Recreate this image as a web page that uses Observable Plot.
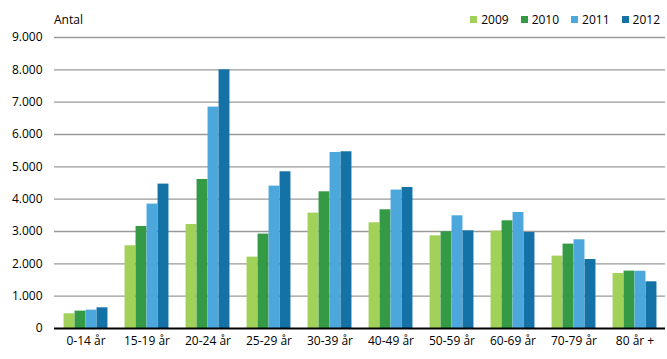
<!DOCTYPE html>
<html>
<head>
<meta charset="utf-8">
<script src="https://cdn.jsdelivr.net/npm/d3@7"></script>
<script src="https://cdn.jsdelivr.net/npm/@observablehq/plot@0.6"></script>
<style>
  html, body { margin: 0; padding: 0; background: #fff; }
  #wrap { position: relative; width: 667px; height: 359px; font-family: "Open Sans", sans-serif; color: #000; }
  #head { position: relative; height: 20px; font-size: 12px; }
  #ylab { position: absolute; left: 54px; top: 11px; }
  #legend { position: absolute; right: 7px; top: 11px; display: flex; gap: 12px; }
  .item { display: flex; align-items: center; gap: 4px; }
  .sw { width: 7px; height: 7px; display: inline-block; }
</style>
</head>
<body>
<div id="wrap">
  <div id="head"><span id="ylab">Antal</span><div id="legend"></div></div>
  <div id="chart"></div>
</div>
<script>
const categories = ["0-14 år", "15-19 år", "20-24 år", "25-29 år", "30-39 år", "40-49 år", "50-59 år", "60-69 år", "70-79 år", "80 år +"];
const years = ["2009", "2010", "2011", "2012"];
const colors = ["#a2d15a", "#349a46", "#4ca7dd", "#1472a6"];
const v2009 = [455, 2558, 3217, 2208, 3569, 3270, 2867, 3012, 2239, 1702];
const v2010 = [537, 3156, 4609, 2920, 4228, 3672, 2991, 3331, 2610, 1775];
const v2011 = [568, 3848, 6848, 4404, 5444, 4281, 3486, 3589, 2744, 1770];
const v2012 = [640, 4466, 8000, 4847, 5466, 4362, 3022, 2970, 2134, 1445];
const yTicks = [0, 1000, 2000, 3000, 4000, 5000, 6000, 7000, 8000, 9000];

const series = [v2009, v2010, v2011, v2012];
const W = 667, H = 339, mL = 54, mR = 2, mT = 17, mB = 31;
const bw = (W - mL - mR) / categories.length;
const barW = 11;
const off = (bw - barW * years.length) / 2;
const fmt = d => d3.format(",")(d).replace(/,/g, ".");

const marks = [
  Plot.ruleY(yTicks.filter(d => d > 0), {stroke: "#9a9a9a", strokeWidth: 1.3}),
];
series.forEach((vals, i) => {
  const data = categories.map((c, j) => ({cat: c, value: vals[j], year: years[i]}));
  marks.push(Plot.barY(data, {
    x: "cat", y: "value", fill: colors[i],
    insetLeft: off + barW * i,
    insetRight: bw - off - barW * (i + 1)
  }));
});
marks.push(Plot.ruleY([0], {stroke: "#000", strokeWidth: 2}));

const chart = Plot.plot({
  width: W, height: H,
  marginLeft: mL, marginRight: mR, marginTop: mT, marginBottom: mB,
  style: {fontFamily: "Open Sans, sans-serif", fontSize: "12px", color: "#000", background: "#fff"},
  x: {domain: categories, padding: 0, label: null, tickSize: 0, tickPadding: 8},
  y: {domain: [0, 9000], ticks: yTicks, tickFormat: fmt, label: null, tickSize: 0, tickPadding: 12},
  marks
});
document.getElementById("chart").appendChild(chart);

const legend = document.getElementById("legend");
years.forEach((y, i) => {
  const it = document.createElement("div");
  it.className = "item";
  it.innerHTML = `<span class="sw" style="background:${colors[i]}"></span><span>${y}</span>`;
  legend.appendChild(it);
});
</script>
</body>
</html>
